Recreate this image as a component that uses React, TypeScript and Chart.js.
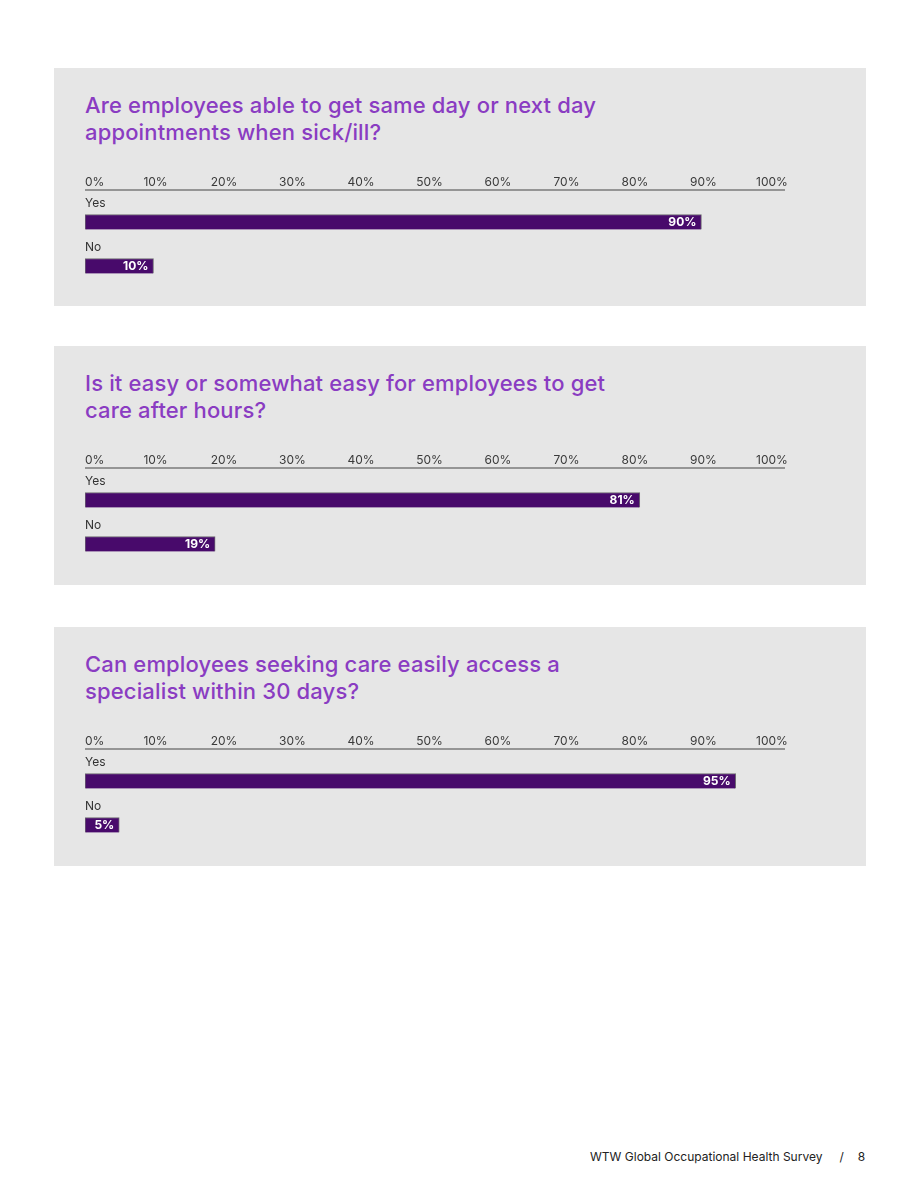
import React, { useEffect, useRef } from "react";
import { Chart, registerables } from "chart.js";

Chart.register(...registerables);

const categories = ["Yes", "No"];
const tickValues = [0, 10, 20, 30, 40, 50, 60, 70, 80, 90, 100];
const axisMax = 102.2;

const titles = [
  ["Are employees able to get same day or next day", "appointments when sick/ill?"],
  ["Is it easy or somewhat easy for employees to get", "care after hours?"],
  ["Can employees seeking care easily access a", "specialist within 30 days?"],
];
const q1Values = [90, 10];
const q2Values = [81, 19];
const q3Values = [95, 5];
const allValues = [q1Values, q2Values, q3Values];

const panelTops = [60, 338, 619];
const panelHeights = [238, 239, 239];

const BAR = "#480a6b";
const FONT = "Inter, 'Noto Sans', sans-serif";
const TITLE_COLOR = "#8a3cc2";

const overlayPlugin = {
  id: "overlay",
  afterDatasetsDraw(chart: any) {
    const { ctx, chartArea, scales } = chart;
    const x = scales.x;
    const y = scales.y;
    ctx.save();
    // axis line
    const axisY = chartArea.top - 10;
    ctx.strokeStyle = "#7a7a7a";
    ctx.lineWidth = 1.5;
    ctx.beginPath();
    ctx.moveTo(chartArea.left, axisY);
    ctx.lineTo(chartArea.right, axisY);
    ctx.stroke();
    // tick labels
    ctx.fillStyle = "#3a3a3a";
    ctx.font = `12px ${FONT}`;
    ctx.textBaseline = "middle";
    tickValues.forEach((v) => {
      const px = x.getPixelForValue(v);
      ctx.textAlign = v === 0 ? "left" : "center";
      ctx.fillText(`${v}%`, v === 0 ? px : px + 2, axisY - 7.5);
    });
    // category labels above bars
    ctx.textAlign = "left";
    ctx.fillStyle = "#333";
    categories.forEach((c, i) => {
      const py = y.getPixelForValue(i);
      ctx.fillText(c, chartArea.left, py - 19);
    });
    // value labels
    const meta = chart.getDatasetMeta(0);
    ctx.font = `bold 12px ${FONT}`;
    ctx.fillStyle = "#ffffff";
    ctx.textAlign = "right";
    meta.data.forEach((bar: any, i: number) => {
      const v = chart.data.datasets[0].data[i];
      ctx.fillText(`${v}%`, bar.x - 5, bar.y + 0.5);
    });
    ctx.restore();
  },
};

function BarPanel({ values }: { values: number[] }) {
  const ref = useRef<HTMLCanvasElement>(null);
  useEffect(() => {
    if (!ref.current) return;
    const chart = new Chart(ref.current, {
      type: "bar",
      data: {
        labels: categories,
        datasets: [
          {
            data: values,
            backgroundColor: BAR,
            borderColor: "#6e6a72",
            borderWidth: { top: 1, right: 1, bottom: 0, left: 1 },
            borderSkipped: false,
            barThickness: 15,
          },
        ],
      },
      options: {
        indexAxis: "y",
        responsive: false,
        animation: false,
        maintainAspectRatio: false,
        layout: { padding: { top: 32, bottom: 0, left: 31, right: 81 } },
        plugins: { legend: { display: false }, tooltip: { enabled: false } },
        scales: {
          x: { display: false, min: 0, max: axisMax },
          y: { display: false, offset: true },
        },
      },
      plugins: [overlayPlugin],
    });
    return () => chart.destroy();
  }, [values]);
  return (
    <canvas
      ref={ref}
      width={812}
      height={120}
      style={{ position: "absolute", left: 0, top: 100, width: 812, height: 120 }}
    />
  );
}

export default function App() {
  return (
    <div style={{ position: "relative", width: 904, height: 1175, fontFamily: FONT }}>
      {titles.map((t, i) => (
        <div
          key={i}
          style={{
            position: "absolute",
            left: 46,
            top: panelTops[i],
            width: 812,
            height: panelHeights[i],
            background: "#e6e6e6",
          }}
        >
          <div
            style={{
              position: "absolute",
              left: 31,
              top: 24,
              color: TITLE_COLOR,
              fontSize: 22,
              letterSpacing: 0.15,
              lineHeight: "27px",
              fontWeight: 500,
              whiteSpace: "nowrap",
            }}
          >
            {t[0]}
            <br />
            {t[1]}
          </div>
          <BarPanel values={allValues[i]} />
        </div>
      ))}
      <div
        style={{
          position: "absolute",
          left: 582,
          top: 1141,
          fontSize: 12,
          color: "#222",
          whiteSpace: "nowrap",
        }}
      >
        WTW Global Occupational Health Survey
        <span style={{ marginLeft: 17 }}>/</span>
        <span style={{ marginLeft: 14 }}>8</span>
      </div>
    </div>
  );
}
